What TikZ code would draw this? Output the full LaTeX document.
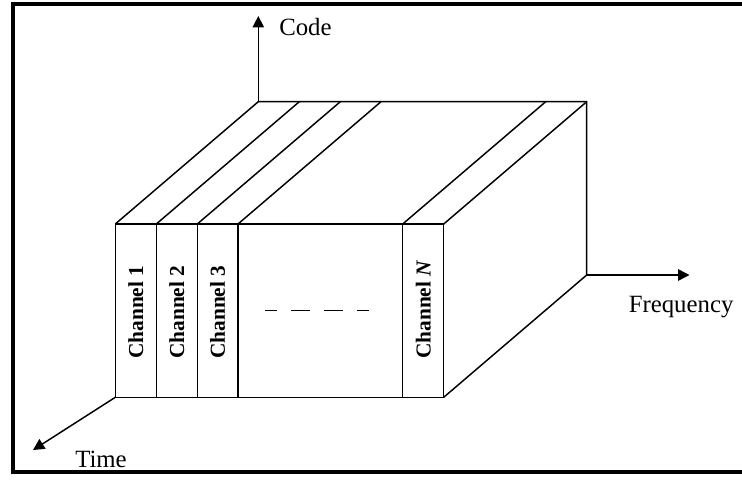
\documentclass[tikz,border=0pt]{standalone}
\usepackage{fontspec}
\setmainfont{Liberation Serif}
\usetikzlibrary{arrows.meta}
\begin{document}
\begin{tikzpicture}[x=0.75pt,y=-0.75pt,
  edge/.style={line width=1.1pt,line join=miter},
  axis/.style={line width=1.1pt,-{Triangle[length=8.5pt,width=8.5pt]}},
  chan/.style={rotate=90,anchor=west,inner sep=0pt,font=\fontsize{16}{18}\selectfont\bfseries},
  lab/.style={anchor=west,inner sep=0pt,font=\fontsize{18.6}{22}\selectfont}]
\useasboundingbox (0,0) rectangle (742,479);
\draw[line width=2.3pt] (745,4) -- (13,4) -- (13,472) -- (745,472);
% front face corners
\foreach \n/\x in {0/115.3,1/156.3,2/197.3,3/238,4/402.7,5/443.7}{
  \coordinate (ft\n) at (\x,224);
  \coordinate (fb\n) at (\x,397.3);
  \coordinate (bt\n) at (\x+143,101.7);
}
\coordinate (bb5) at (586.7,275);
% front face
\draw[edge] (ft0) rectangle (fb5);
\foreach \n in {1,2,3,4}{\draw[edge] (ft\n) -- (fb\n);}
% top and right faces
\draw[edge] (bt0) -- (bt5) -- (bb5) -- (fb5);
\foreach \n in {0,1,2,3,4,5}{\draw[edge] (ft\n) -- (bt\n);}
% axes
\coordinate (codeT) at (258.3,16);
\coordinate (freqT) at (689.5,275);
\coordinate (timeT) at (33,450);
\draw[axis] (bt0) -- (codeT);
\draw[axis] (bb5) -- (freqT);
\draw[axis] (fb0) -- (timeT);
\node[lab] (code) at (279,27) {Code};
\node[lab] (freq) at (628.5,307) {Frequency};
\node[lab] (time) at (75,459) {Time};
% channel labels
\node[chan] (c1) at (135.8,359) {Channel 1};
\node[chan] (c2) at (176.8,359) {Channel 2};
\node[chan] (c3) at (217.6,359) {Channel 3};
\node[chan] (cN) at (423.2,359) {Channel \textit{N}};
% dashes
\coordinate (d0) at (265,310.7);
\coordinate (d1) at (369,310.7);
\draw[line width=1.1pt,dash pattern=on 9pt off 10.5pt on 14.25pt off 10.5pt on 14.25pt off 10.5pt on 9pt off 80pt] (d0) -- (d1);
\end{tikzpicture}
\end{document}
